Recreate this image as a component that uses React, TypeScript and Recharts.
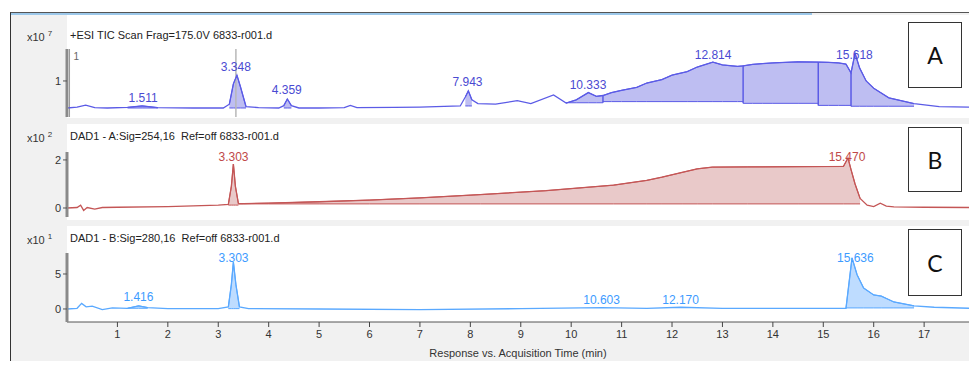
import React from "react";
import { ComposedChart, Line, Area, XAxis, YAxis, ReferenceDot, ReferenceLine } from "recharts";

// shared time axis (min)
const X_MAX = 17.89;
const xTicks = [1, 2, 3, 4, 5, 6, 7, 8, 9, 10, 11, 12, 13, 14, 15, 16, 17];

// A: +ESI TIC (x10^7)
const ticTime = [0, 0.2, 0.37, 0.55, 0.8, 1.2, 1.49, 1.8, 2.5, 3.1, 3.22, 3.3, 3.37, 3.44, 3.55, 3.8, 4.2, 4.3, 4.37, 4.45, 4.6, 5.0, 5.5, 5.62, 5.75, 6.5, 7.0, 7.8, 7.9, 7.96, 8.03, 8.15, 8.5, 8.93, 9.2, 9.65, 9.9, 10.1, 10.34, 10.5, 10.63, 10.8, 11.0, 11.3, 11.5, 11.8, 12.0, 12.3, 12.5, 12.81, 13.0, 13.3, 13.41, 13.6, 13.8, 14.0, 14.5, 14.9, 15.1, 15.3, 15.45, 15.55, 15.63, 15.72, 15.85, 16.0, 16.3, 16.8, 17.3, 17.9];
const ticValue = [0.07, 0.1, 0.17, 0.08, 0.07, 0.09, 0.14, 0.08, 0.07, 0.07, 0.2, 0.9, 1.2, 0.8, 0.12, 0.08, 0.07, 0.15, 0.38, 0.15, 0.07, 0.07, 0.08, 0.16, 0.08, 0.09, 0.1, 0.14, 0.45, 0.66, 0.35, 0.22, 0.2, 0.32, 0.22, 0.52, 0.24, 0.35, 0.6, 0.47, 0.5, 0.6, 0.68, 0.78, 0.93, 1.05, 1.2, 1.32, 1.48, 1.65, 1.55, 1.5, 1.52, 1.57, 1.6, 1.62, 1.66, 1.65, 1.64, 1.62, 1.58, 1.28, 1.95, 1.45, 1.0, 0.75, 0.42, 0.22, 0.12, 0.1];
const ticFills = [[1.2, 1.8, 0.07], [3.22, 3.55, 0.07], [4.3, 4.45, 0.07], [7.9, 8.03, 0.14], [9.9, 10.63, 0.25], [10.63, 13.41, 0.29], [13.41, 14.9, 0.23], [14.9, 15.55, 0.16], [15.55, 16.8, 0.13]];
const ticSplits = [10.63, 13.41, 14.9, 15.55];
const ticPeaks = [1.511, 3.348, 4.359, 7.943, 10.333, 12.814, 15.618];
const ticPeakLabelY = [0.41, 1.48, 0.69, 0.97, 0.86, 1.9, 1.9];

// B: DAD1 A 254 nm (x10^2)
const dadATime = [0, 0.2, 0.27, 0.33, 0.4, 0.55, 0.7, 1.0, 2.0, 3.0, 3.2, 3.26, 3.3, 3.34, 3.4, 3.5, 4.0, 5.0, 6.0, 7.0, 8.2, 9.5, 10.84, 11.5, 11.8, 12.2, 12.5, 12.8, 13.5, 14.5, 15.4, 15.49, 15.55, 15.63, 15.73, 15.87, 16.0, 16.13, 16.25, 16.4, 17.0, 17.9];
const dadAValue = [0, 0.02, 0.12, -0.1, 0.02, -0.05, 0.02, 0.03, 0.06, 0.12, 0.15, 0.9, 1.83, 0.9, 0.18, 0.18, 0.2, 0.26, 0.33, 0.42, 0.56, 0.72, 0.95, 1.15, 1.28, 1.48, 1.63, 1.7, 1.71, 1.72, 1.73, 2.08, 1.6, 1.0, 0.4, 0.12, 0.06, 0.2, 0.08, 0.05, 0.03, 0.02];
const dadAFills = [[3.2, 3.4, 0.12], [3.4, 15.73, 0.17]];
const dadAPeaks = [3.303, 15.47];
const dadAPeakLabelY = [2.12, 2.12];

// C: DAD1 B 280 nm (x10^1)
const dadBTime = [0, 0.2, 0.29, 0.38, 0.5, 0.7, 0.9, 1.2, 1.42, 1.6, 2.0, 3.0, 3.2, 3.26, 3.3, 3.35, 3.42, 3.6, 5.0, 7.0, 9.0, 10.6, 11.5, 12.17, 13.0, 15.0, 15.45, 15.57, 15.67, 15.8, 16.0, 16.15, 16.4, 16.8, 17.2, 17.9];
const dadBValue = [0, 0.1, 0.8, 0.3, 0.4, -0.1, 0.15, 0.1, 0.45, 0.2, 0.05, 0.05, 0.3, 3.5, 6.7, 3.5, 0.3, 0.05, 0, -0.1, 0.05, 0.2, 0.1, 0.25, 0.1, 0.1, 0.1, 7.3, 4.9, 3.0, 2.0, 1.85, 1.0, 0.45, 0.25, 0.1];
const dadBFills = [[1.2, 1.6, 0.1], [3.2, 3.42, 0.05], [15.45, 16.8, 0.15]];
const dadBPeaks = [1.416, 3.303, 10.603, 12.17, 15.636];
const dadBPeakLabelY = [1.7, 7.3, 1.3, 1.3, 7.3];

const FONT = "'Liberation Sans', Arial, sans-serif";

const Trace = ({ top, height, mt, mb, time, value, fills, splits = [], peaks, peakY, domain, yTicks, line, fill, ink, axis = false, children }: any) => {
  const rows = time.map((t: number, i: number) => ({ t, v: value[i] }));
  const bands = fills.map(([from, to, base]: number[]) =>
    rows.filter((r: any) => r.t >= from && r.t <= to).map((r: any) => ({ t: r.t, band: [base, r.v] }))
  );
  const segs = splits.map((t: number) => {
    const v = rows.find((r: any) => r.t === t)?.v ?? 0;
    const base = Math.min(...fills.filter((f: number[]) => f[0] === t || f[1] === t).map((f: number[]) => f[2]));
    return { t, base, v };
  });

  return (
    <div style={{ position: "absolute", left: 10, top }}>
      <ComposedChart width={959} height={height} data={rows} margin={{ top: mt, bottom: mb, left: 0, right: 0 }}>
        <XAxis
          type="number"
          dataKey="t"
          domain={[0, X_MAX]}
          allowDataOverflow
          hide={!axis}
          ticks={xTicks}
          interval={0}
          height={38}
          tickSize={5}
          tickMargin={3}
          tick={{ fontSize: 11, fill: "#333" }}
          tickLine={{ stroke: "#444" }}
          axisLine={{ stroke: "#555" }}
          label={{ value: "Response vs. Acquisition Time (min)", position: "insideBottom", offset: 3, fontSize: 11, fill: "#333" }}
        />
        <YAxis
          type="number"
          domain={domain}
          allowDataOverflow
          ticks={yTicks}
          interval={0}
          width={57}
          tickSize={4}
          tickMargin={2}
          tick={{ fontSize: 11, fill: "#333" }}
          tickLine={{ stroke: "#555" }}
          axisLine={{ stroke: "#8a8a8a", strokeWidth: 3 }}
        />
        {children}
        {bands.map((b: any[], i: number) => (
          <Area key={i} data={b} dataKey="band" type="linear" stroke={line} strokeWidth={1} fill={fill} fillOpacity={1} isAnimationActive={false} />
        ))}
        <Line dataKey="v" type="linear" stroke={line} strokeWidth={1.3} dot={false} isAnimationActive={false} />
        {segs.map((s: any, i: number) => (
          <ReferenceLine key={"s" + i} segment={[{ x: s.t, y: s.base }, { x: s.t, y: s.v }]} stroke={line} strokeWidth={1.5} />
        ))}
        {peaks.map((p: number, i: number) => (
          <ReferenceDot
            key={"p" + i}
            x={p}
            y={peakY[i]}
            r={0}
            fill="none"
            stroke="none"
            label={{ value: p.toFixed(3), position: "center", fontSize: 12, fill: ink }}
          />
        ))}
      </ComposedChart>
    </div>
  );
};

const Title = ({ top, exp, text }: { top: number; exp: string; text: string }) => (
  <>
    <div style={{ position: "absolute", left: 27, top, fontSize: 11, color: "#333" }}>
      x10<sup style={{ fontSize: 8, marginLeft: 3 }}>{exp}</sup>
    </div>
    <div style={{ position: "absolute", left: 70, top, fontSize: 11, color: "#222", whiteSpace: "pre" }}>{text}</div>
  </>
);

const Tag = ({ top, h, letter }: { top: number; h: number; letter: string }) => (
  <div
    style={{
      position: "absolute",
      left: 908,
      top,
      width: 54,
      height: h,
      boxSizing: "border-box",
      border: "1.5px solid #333",
      background: "#fff",
      display: "flex",
      alignItems: "center",
      justifyContent: "center",
      fontFamily: "Lato, 'Open Sans', sans-serif",
      fontSize: 23,
      color: "#111",
    }}
  >
    {letter}
  </div>
);

export default function App() {
  return (
    <div style={{ position: "absolute", left: 0, top: 0, width: 969, height: 372, background: "#fff", fontFamily: FONT, overflow: "hidden" }}>
      {/* window frame */}
      <div style={{ position: "absolute", left: 10, top: 12, width: 959, height: 348, background: "#f1f1f1", borderLeft: "1px solid #333", borderTop: "1px solid #555" }} />
      <div style={{ position: "absolute", left: 11, top: 13, width: 801, height: 2, background: "#9cc8ea" }} />

      {/* white plot panes */}
      <div style={{ position: "absolute", left: 67, top: 15, width: 902, height: 103, background: "#fff" }} />
      <div style={{ position: "absolute", left: 67, top: 124, width: 902, height: 96, background: "#fff" }} />
      <div style={{ position: "absolute", left: 67, top: 226, width: 902, height: 96, background: "#fff" }} />

      <Title top={29} exp="7" text="+ESI TIC Scan Frag=175.0V 6833-r001.d" />
      <Title top={130} exp="2" text="DAD1 - A:Sig=254,16  Ref=off 6833-r001.d" />
      <Title top={232} exp="1" text="DAD1 - B:Sig=280,16  Ref=off 6833-r001.d" />

      <Trace
        top={15}
        height={103}
        mt={34}
        mb={1}
        time={ticTime}
        value={ticValue}
        fills={ticFills}
        splits={ticSplits}
        peaks={ticPeaks}
        peakY={ticPeakLabelY}
        domain={[-0.24, 2.1]}
        yTicks={[1]}
        line="#5b5be6"
        fill="#bebef2"
        ink="#4a4ad2"
      >
        <ReferenceLine x={0.05} stroke="#999" label={{ value: "1", position: "insideTopLeft", offset: 4, fontSize: 10, fill: "#666" }} />
        <ReferenceLine x={3.35} stroke="#b8b8b8" strokeWidth={1.5} />
      </Trace>

      <Trace
        top={124}
        height={96}
        mt={28}
        mb={3}
        time={dadATime}
        value={dadAValue}
        fills={dadAFills}
        peaks={dadAPeaks}
        peakY={dadAPeakLabelY}
        domain={[-0.375, 2.33]}
        yTicks={[0, 2]}
        line="#c45656"
        fill="#e9c9c9"
        ink="#c04848"
      />

      <Trace
        top={226}
        height={134}
        mt={27}
        mb={0}
        axis
        time={dadBTime}
        value={dadBValue}
        fills={dadBFills}
        peaks={dadBPeaks}
        peakY={dadBPeakLabelY}
        domain={[-1.86, 8]}
        yTicks={[0, 5]}
        line="#5aa9ff"
        fill="#bedcff"
        ink="#3d9bff"
      />

      <Tag top={22} h={66} letter="A" />
      <Tag top={127} h={65} letter="B" />
      <Tag top={229} h={67} letter="C" />
    </div>
  );
}
